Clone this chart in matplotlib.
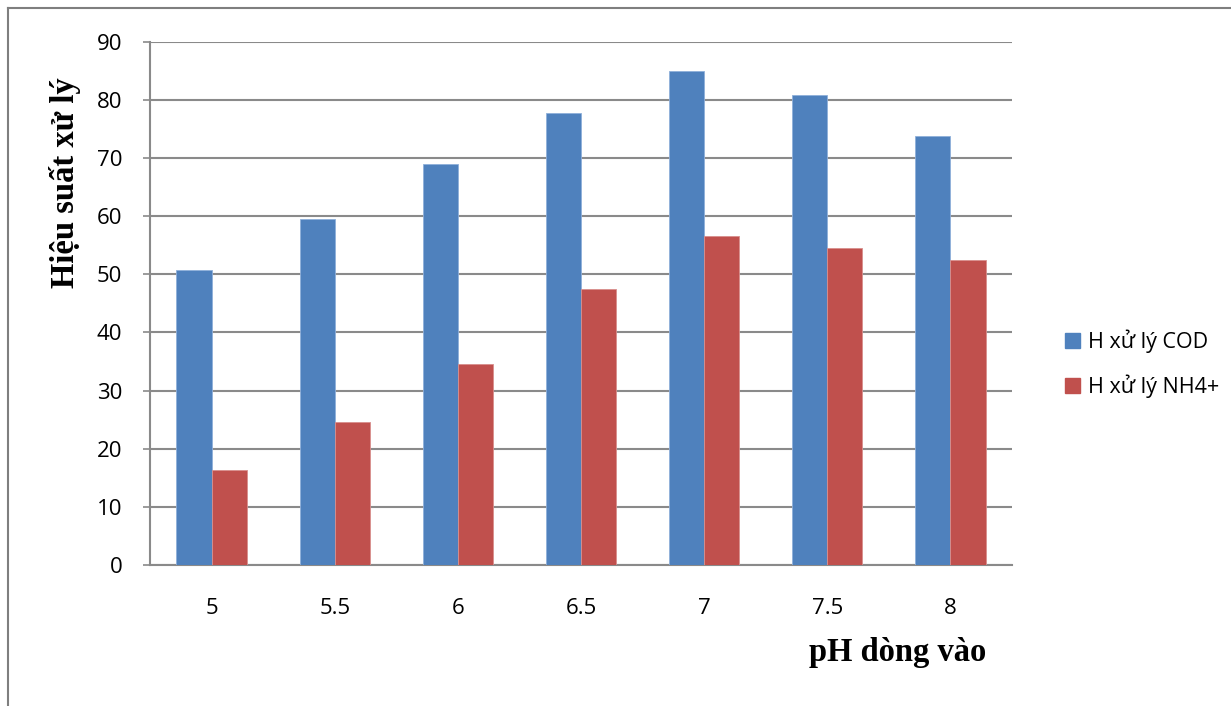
import numpy as np
import matplotlib.pyplot as plt
from matplotlib.lines import Line2D
from matplotlib.patches import Patch

ph = ["5", "5.5", "6", "6.5", "7", "7.5", "8"]
cod = [50.8, 59.5, 69.0, 77.8, 85.0, 80.9, 73.8]
nh4 = [16.4, 24.6, 34.5, 47.4, 56.6, 54.6, 52.5]

blue = "#4F81BD"
red = "#C0504D"
grid_c = "#8A8A8A"
sans = "Open Sans"

W, H = 1231, 706
fig = plt.figure(figsize=(W / 100, H / 100), dpi=100)
ax = fig.add_axes([150 / W, 1 - 565 / H, (1012 - 150) / W, (565 - 41.7) / H])

x = np.arange(len(ph))
bw = 1 / 3.5
ax.bar(x - bw / 2, cod, bw, color=blue, edgecolor="#8FB0DA", linewidth=0.6, zorder=3)
ax.bar(x + bw / 2, nh4, bw, color=red, edgecolor="#D88F8D", linewidth=0.6, zorder=3)

ax.set_xlim(-0.5, len(ph) - 0.5)
ax.set_ylim(0, 90)
ax.set_yticks(range(0, 91, 10))
ax.set_xticks(x)
ax.set_xticklabels(ph)
ax.yaxis.grid(True, color=grid_c, linewidth=1.5, zorder=0)
ax.set_axisbelow(True)

for s in ["top", "right"]:
    ax.spines[s].set_visible(False)
for s in ["left", "bottom"]:
    ax.spines[s].set_color(grid_c)
    ax.spines[s].set_linewidth(1.5)

ax.tick_params(axis="y", direction="out", length=5, width=1.2, color=grid_c, pad=15, labelsize=16)
ax.tick_params(axis="x", length=0, pad=24, labelsize=16)
for lab in ax.get_xticklabels() + ax.get_yticklabels():
    lab.set_fontfamily(sans)

# axis titles
fig.text(65 / W, 1 - 183 / H, "Hiệu suất xử lý", rotation=90, ha="center", va="center",
         family="Liberation Serif", weight="bold", size=23.5)
fig.text(898 / W, 1 - 653 / H, "pH dòng vào", ha="center", va="center",
         family="Liberation Serif", weight="bold", size=23.5)

# legend
handles = [Patch(color=blue), Patch(color=red)]
leg = fig.legend(handles, ["H xử lý COD", "H xử lý NH4+"], loc="center left",
                 bbox_to_anchor=(1054 / W, 1 - 364 / H), frameon=False, borderpad=0,
                 prop=dict(family=sans, size=15.5), handlelength=0.7, handleheight=0.7,
                 handletextpad=0.36, labelspacing=1.0)

# outer frame
fig.add_artist(Line2D([8 / W, 8 / W], [0, 1 - 8 / H], transform=fig.transFigure, color="#7F7F7F", lw=1.5))
fig.add_artist(Line2D([8 / W, 1], [1 - 8 / H, 1 - 8 / H], transform=fig.transFigure, color="#7F7F7F", lw=1.5))

fig.savefig("out.png", dpi=100)
